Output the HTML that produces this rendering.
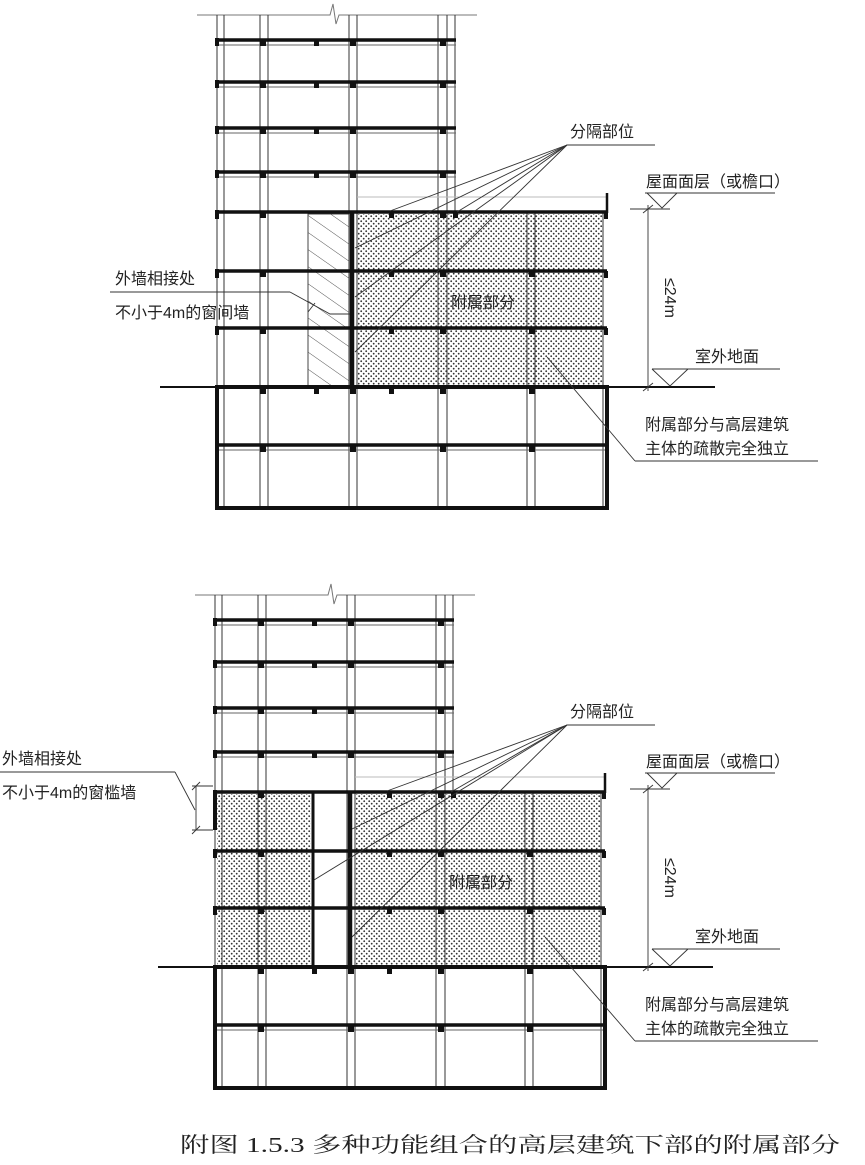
<!DOCTYPE html>
<html><head><meta charset="utf-8"><style>
html,body{margin:0;padding:0;background:#fff;}
svg{display:block;}
text{font-family:"Liberation Sans","Noto Sans CJK SC",sans-serif;fill:#222;}
</style></head><body>
<svg width="865" height="1165" viewBox="0 0 865 1165" xmlns="http://www.w3.org/2000/svg">
<defs>
<pattern id="dots" width="5" height="5" patternUnits="userSpaceOnUse">
<circle cx="1.2" cy="1.2" r="0.9" fill="#333"/><circle cx="3.7" cy="3.7" r="0.9" fill="#333"/>
</pattern>
<pattern id="hatch" width="14" height="14" patternUnits="userSpaceOnUse" patternTransform="rotate(-55)">
<line x1="0" y1="0" x2="0" y2="14" stroke="#555" stroke-width="1"/>
</pattern>
<g id="bld">
<path d="M197 15 H330 L333 4 L336 24 L339 15 H477" fill="none" stroke="#777" stroke-width="1"/>
<g stroke="#333" stroke-width="1" fill="none">
<line x1="217" y1="15" x2="217" y2="508"/><line x1="224" y1="15" x2="224" y2="508"/>
<line x1="260" y1="15" x2="260" y2="508"/><line x1="268" y1="15" x2="268" y2="508"/>
<line x1="349" y1="15" x2="349" y2="508"/><line x1="357" y1="15" x2="357" y2="508"/>
<line x1="438" y1="15" x2="438" y2="508"/><line x1="447" y1="15" x2="447" y2="508"/>
<line x1="455" y1="15" x2="455" y2="212"/>
<line x1="527" y1="212" x2="527" y2="508"/><line x1="535" y1="212" x2="535" y2="508"/>
<line x1="603" y1="212" x2="603" y2="508"/>
</g>
<g stroke="#111" stroke-width="3.5">
<line x1="217" y1="40" x2="456" y2="40"/><line x1="217" y1="82" x2="456" y2="82"/>
<line x1="217" y1="128" x2="456" y2="128"/><line x1="217" y1="172" x2="456" y2="172"/>
<line x1="217" y1="212" x2="607" y2="212"/><line x1="217" y1="271" x2="607" y2="271"/>
<line x1="217" y1="328" x2="607" y2="328"/><line x1="217" y1="445" x2="607" y2="445"/>
</g>
<g stroke="#666" stroke-width="1">
<line x1="217" y1="45" x2="456" y2="45"/><line x1="217" y1="87" x2="456" y2="87"/>
<line x1="217" y1="133" x2="456" y2="133"/><line x1="217" y1="177" x2="456" y2="177"/>
<line x1="217" y1="450" x2="607" y2="450"/>
</g>
<g fill="#111">
<rect x="260" y="40" width="6" height="6"/><rect x="314" y="40" width="5" height="6"/><rect x="350" y="40" width="6" height="6"/><rect x="440" y="40" width="6" height="6"/>
<rect x="260" y="82" width="6" height="6"/><rect x="314" y="82" width="5" height="6"/><rect x="350" y="82" width="6" height="6"/><rect x="440" y="82" width="6" height="6"/>
<rect x="260" y="128" width="6" height="6"/><rect x="314" y="128" width="5" height="6"/><rect x="350" y="128" width="6" height="6"/><rect x="440" y="128" width="6" height="6"/>
<rect x="260" y="172" width="6" height="6"/><rect x="314" y="172" width="5" height="6"/><rect x="350" y="172" width="6" height="6"/><rect x="440" y="172" width="6" height="6"/>
<rect x="260" y="212" width="6" height="6"/><rect x="389" y="212" width="5" height="6"/><rect x="440" y="212" width="6" height="6"/><rect x="453" y="212" width="5" height="6"/>
<rect x="260" y="271" width="6" height="6"/><rect x="389" y="271" width="5" height="6"/><rect x="440" y="271" width="6" height="6"/><rect x="529" y="271" width="6" height="6"/>
<rect x="260" y="328" width="6" height="6"/><rect x="389" y="328" width="5" height="6"/><rect x="440" y="328" width="6" height="6"/><rect x="529" y="328" width="6" height="6"/>
<rect x="260" y="387" width="6" height="7"/><rect x="314" y="387" width="5" height="7"/><rect x="350" y="387" width="6" height="7"/><rect x="389" y="387" width="5" height="7"/><rect x="440" y="387" width="6" height="7"/><rect x="529" y="387" width="6" height="7"/>
<rect x="260" y="445" width="6" height="7"/><rect x="350" y="445" width="6" height="7"/><rect x="440" y="445" width="6" height="7"/><rect x="529" y="445" width="6" height="7"/>
<rect x="604" y="212" width="4" height="7"/><rect x="604" y="271" width="4" height="7"/><rect x="604" y="328" width="4" height="7"/>
<rect x="215" y="38" width="4" height="8"/><rect x="215" y="80" width="4" height="8"/><rect x="215" y="126" width="4" height="8"/><rect x="215" y="170" width="4" height="8"/>
<rect x="215" y="210" width="4" height="9"/><rect x="215" y="269" width="4" height="9"/><rect x="215" y="326" width="4" height="9"/>
</g>
<line x1="357" y1="197" x2="607" y2="197" stroke="#bbb" stroke-width="1"/>
<line x1="607" y1="193" x2="607" y2="213" stroke="#111" stroke-width="2.5"/>
<rect x="217" y="387" width="390" height="121" fill="none" stroke="#111" stroke-width="4"/>
<line x1="160" y1="387" x2="217" y2="387" stroke="#111" stroke-width="2"/>
<line x1="607" y1="387" x2="715" y2="387" stroke="#111" stroke-width="2"/>
</g>
</defs>

<!-- TOP -->
<rect x="358" y="214" width="245" height="171" fill="url(#dots)"/>
<rect x="308" y="214" width="41" height="172" fill="url(#hatch)" stroke="#444" stroke-width="1"/>
<use href="#bld"/>
<line x1="352" y1="212" x2="352" y2="388" stroke="#111" stroke-width="4.5"/>

<!-- BOTTOM -->
<g transform="translate(-2,580)">
<rect x="219" y="214" width="94" height="171" fill="url(#dots)"/>
<rect x="358" y="214" width="245" height="171" fill="url(#dots)"/>
<use href="#bld"/>
<line x1="352" y1="212" x2="352" y2="388" stroke="#111" stroke-width="4.5"/>
<line x1="315" y1="212" x2="315" y2="388" stroke="#111" stroke-width="3"/>
<line x1="217" y1="212" x2="217" y2="250" stroke="#111" stroke-width="4"/>
</g>

<!-- TOP LABELS -->
<g stroke="#333" stroke-width="0.9" fill="none">
<polyline points="655,145 567,145"/>
<line x1="567" y1="145" x2="390" y2="211"/>
<line x1="567" y1="145" x2="355" y2="248"/>
<line x1="567" y1="145" x2="355" y2="297"/>
<line x1="567" y1="145" x2="355" y2="352"/>
<line x1="567" y1="145" x2="457" y2="212"/>
<line x1="645" y1="193" x2="775" y2="193"/>
<polyline points="647,193 662,208 677,193"/>
<line x1="630" y1="209" x2="670" y2="209"/>
<line x1="648" y1="205" x2="648" y2="391"/>
<line x1="643" y1="213" x2="653" y2="205"/>
<line x1="643" y1="391" x2="653" y2="383"/>
<line x1="652" y1="369" x2="780" y2="369"/>
<polyline points="652,369 670,386 688,369"/>
<line x1="547" y1="357" x2="635" y2="461"/>
<line x1="635" y1="461" x2="818" y2="461"/>
<line x1="110" y1="292" x2="290" y2="292"/>
<polyline points="290,292 330,314 350,314"/>
<line x1="315" y1="303" x2="308" y2="312"/>
</g>
<text x="570" y="137" font-size="16">分隔部位</text>
<text x="646" y="187" font-size="16">屋面面层（或檐口）</text>
<text x="0" y="0" font-size="16" transform="translate(665,278) rotate(90)">≤24m</text>
<text x="695" y="362" font-size="16">室外地面</text>
<text x="645" y="430" font-size="16">附属部分与高层建筑</text>
<text x="645" y="454" font-size="16">主体的疏散完全独立</text>
<text x="115" y="284" font-size="16">外墙相接处</text>
<text x="115" y="318" font-size="16">不小于4m的窗间墙</text>
<text x="451" y="308" font-size="16">附属部分</text>

<!-- BOTTOM LABELS -->
<g stroke="#333" stroke-width="0.9" fill="none">
<polyline points="655,725 567,725"/>
<line x1="567" y1="725" x2="387" y2="791"/>
<line x1="567" y1="725" x2="352" y2="829"/>
<line x1="567" y1="725" x2="314" y2="880"/>
<line x1="567" y1="725" x2="352" y2="937"/>
<line x1="567" y1="725" x2="451" y2="792"/>
<line x1="645" y1="773" x2="775" y2="773"/>
<polyline points="647,773 662,788 677,773"/>
<line x1="630" y1="789" x2="670" y2="789"/>
<line x1="648" y1="785" x2="648" y2="971"/>
<line x1="643" y1="793" x2="653" y2="785"/>
<line x1="643" y1="971" x2="653" y2="963"/>
<line x1="652" y1="949" x2="780" y2="949"/>
<polyline points="652,949 670,966 688,949"/>
<line x1="545" y1="937" x2="635" y2="1041"/>
<line x1="635" y1="1041" x2="818" y2="1041"/>
<line x1="0" y1="772" x2="175" y2="772"/>
<polyline points="175,772 195,810"/>
<line x1="196" y1="786" x2="196" y2="830"/>
<line x1="192" y1="786" x2="213" y2="786"/>
<line x1="192" y1="830" x2="213" y2="830"/>
<line x1="192" y1="790" x2="200" y2="782"/>
<line x1="192" y1="834" x2="200" y2="826"/>
</g>
<text x="570" y="717" font-size="16">分隔部位</text>
<text x="646" y="767" font-size="16">屋面面层（或檐口）</text>
<text x="0" y="0" font-size="16" transform="translate(665,858) rotate(90)">≤24m</text>
<text x="695" y="942" font-size="16">室外地面</text>
<text x="645" y="1010" font-size="16">附属部分与高层建筑</text>
<text x="645" y="1034" font-size="16">主体的疏散完全独立</text>
<text x="2" y="764" font-size="16">外墙相接处</text>
<text x="2" y="798" font-size="16">不小于4m的窗槛墙</text>
<text x="449" y="888" font-size="16">附属部分</text>

<text x="180" y="1152" font-size="21" textLength="660" lengthAdjust="spacingAndGlyphs" style="font-family:'Liberation Serif','Noto Serif CJK SC',serif">附图 1.5.3  多种功能组合的高层建筑下部的附属部分</text>
</svg>
</body></html>
